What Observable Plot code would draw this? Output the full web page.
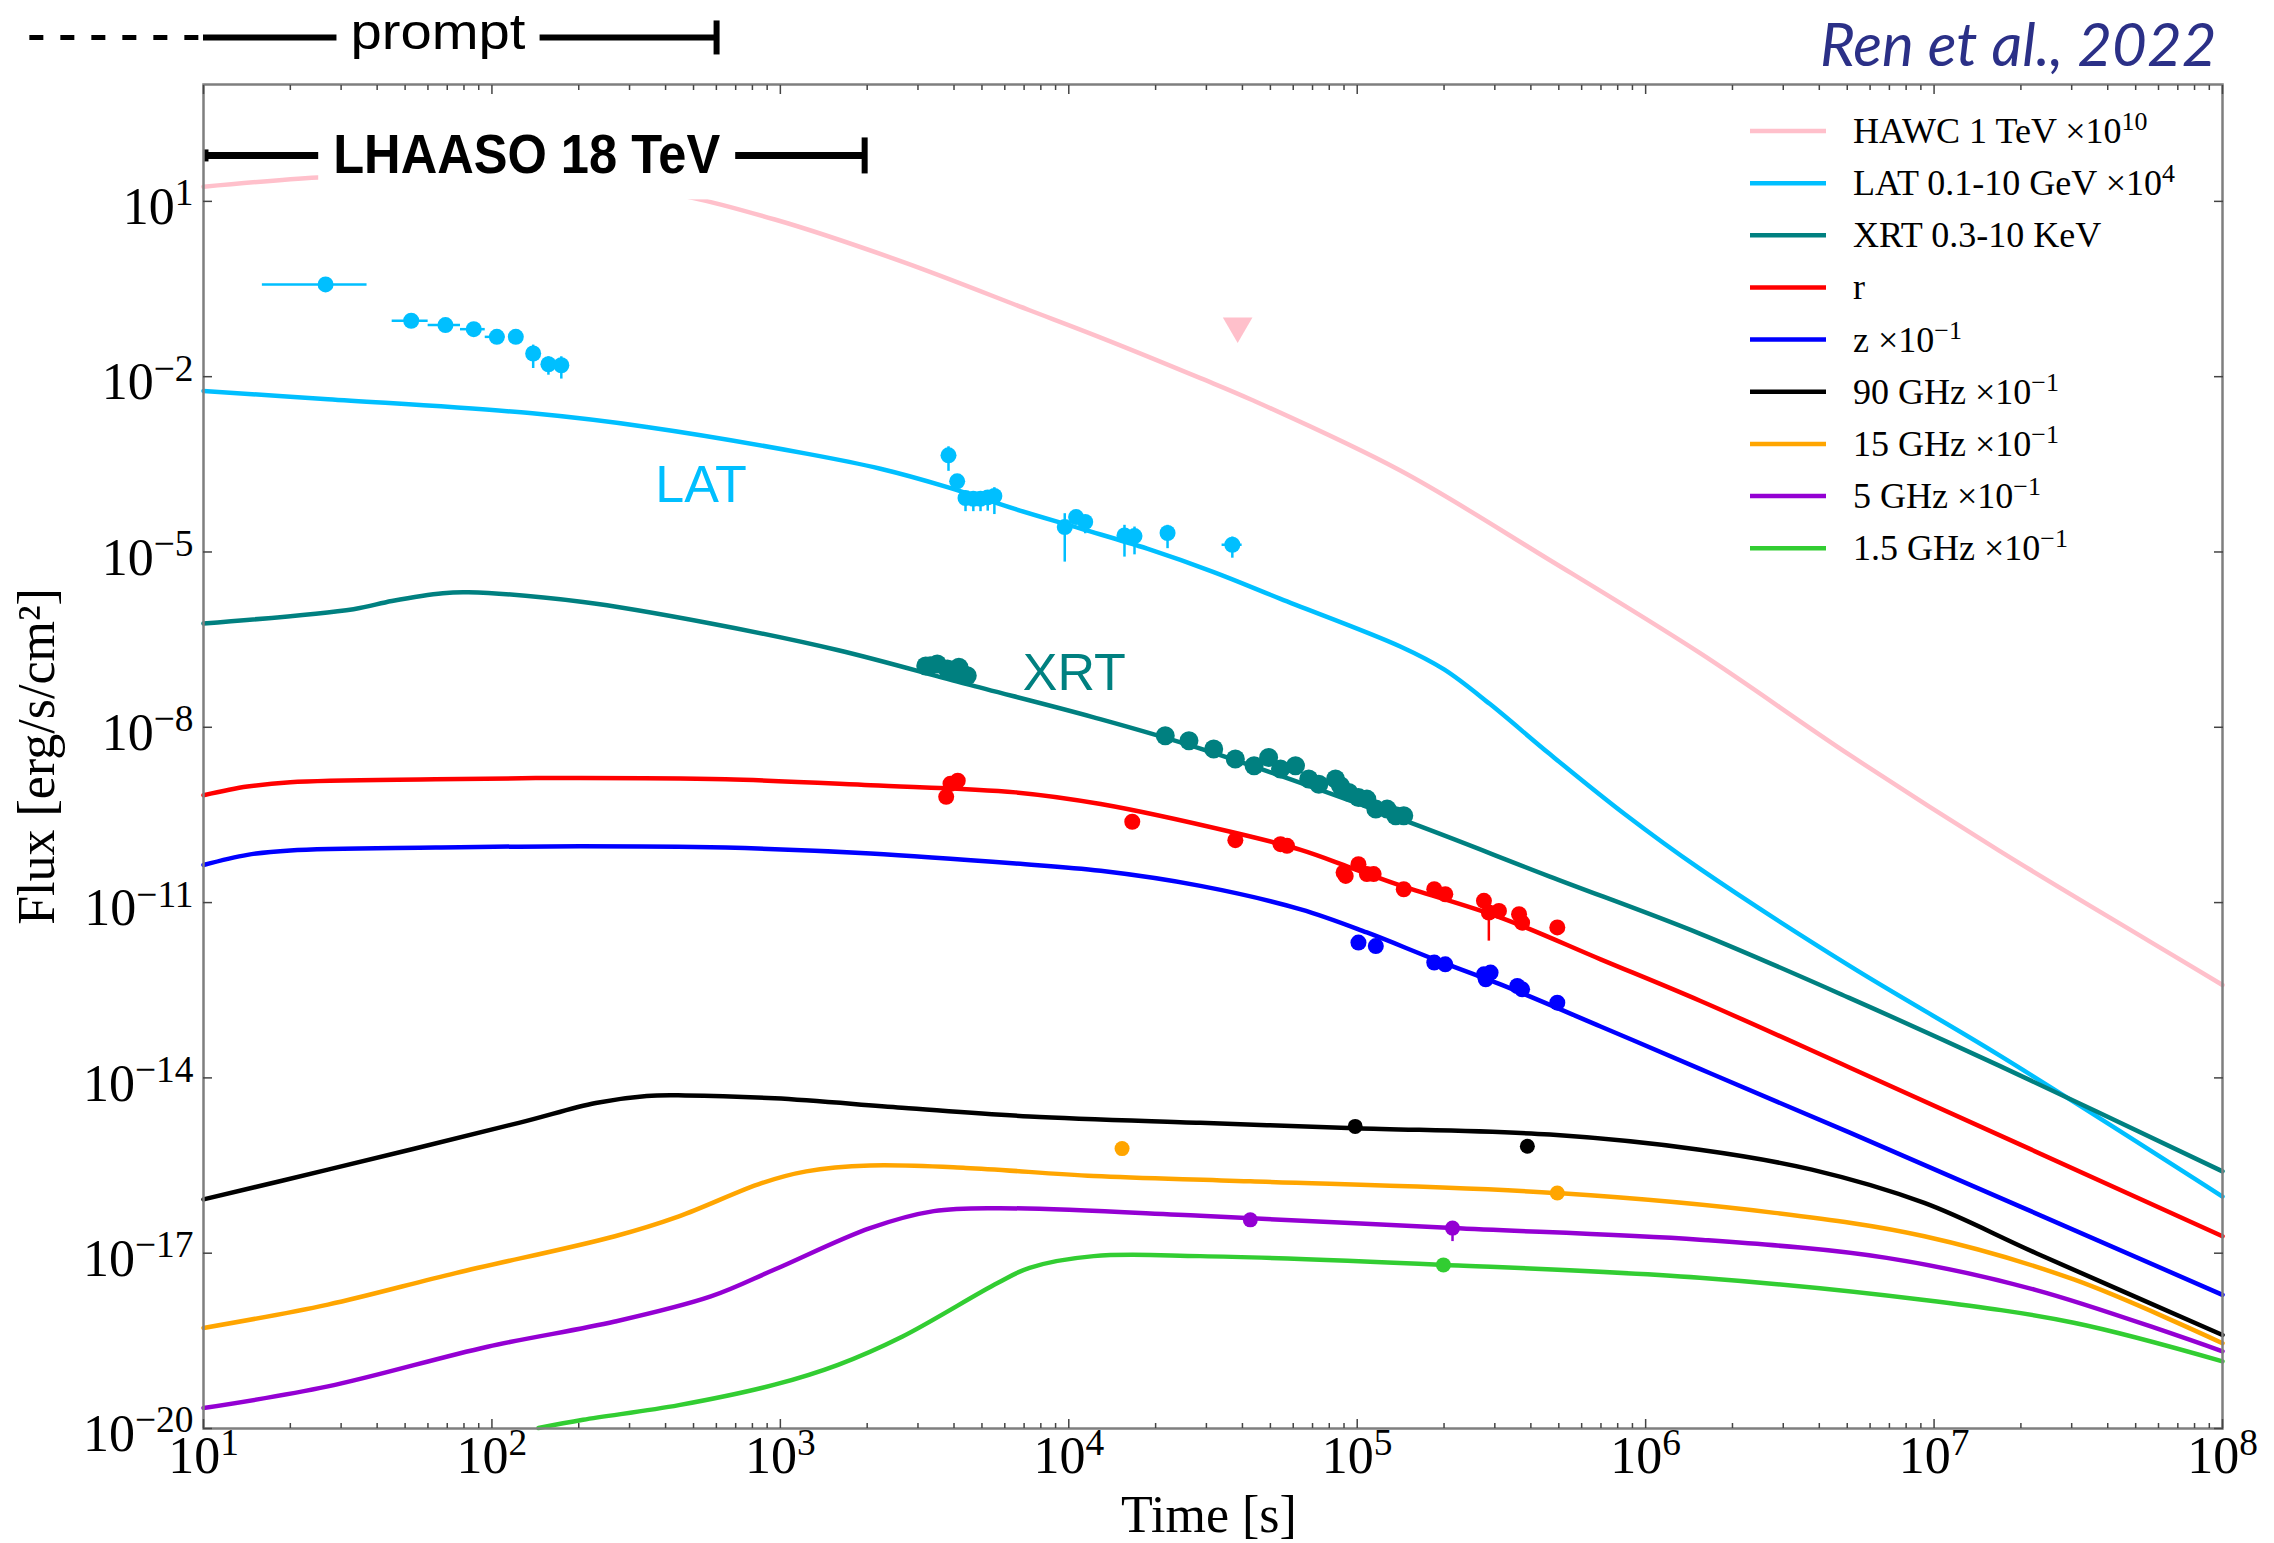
<!DOCTYPE html>
<html>
<head>
<meta charset="utf-8">
<title>Multi-wavelength light curves</title>
<script src="https://cdn.jsdelivr.net/npm/d3@7"></script>
<script src="https://cdn.jsdelivr.net/npm/@observablehq/plot@0.6"></script>
<style>
html,body{margin:0;padding:0;background:#fff;}
#chart svg{display:block;}
</style>
</head>
<body>
<div id="chart"></div>
<script>
// ---------------- axis ticks ----------------
const xMajorTicks = [1e1, 1e2, 1e3, 1e4, 1e5, 1e6, 1e7, 1e8];
const xTickLabels = ["10^1", "10^2", "10^3", "10^4", "10^5", "10^6", "10^7", "10^8"];
const yMajorTicks = [1e-20, 1e-17, 1e-14, 1e-11, 1e-8, 1e-5, 1e-2, 1e1];
const yTickLabels = ["10^-20", "10^-17", "10^-14", "10^-11", "10^-8", "10^-5", "10^-2", "10^1"];
const xMinorTicks = d3.range(1, 8).flatMap(k => d3.range(2, 10).map(m => m * 10 ** k));

// ---------------- series (legend order) ----------------
const seriesNames = ["HAWC 1 TeV ×10^10", "LAT 0.1-10 GeV ×10^4", "XRT 0.3-10 KeV", "r", "z ×10^-1",
  "90 GHz ×10^-1", "15 GHz ×10^-1", "5 GHz ×10^-1", "1.5 GHz ×10^-1"];
const seriesColors = ["#ffc0cb", "#00bfff", "#008080", "#ff0000", "#0000ff", "#000000", "#ffa500", "#9400d3", "#32cd32"];

// ---------------- model curves: [time (s), flux (erg/s/cm^2)] ----------------
const hawcModel = [[10, 17.8], [24.9, 25.7], [50, 28.8], [158, 21.4], [411, 13.7], [957, 4.89], [2642, 0.931],
  [7311, 0.137], [1.29e4, 0.0467], [2.86e4, 9.44e-3], [4.26e4, 4.11e-3], [1.41e5, 2.47e-4], [4.63e5, 7.36e-6],
  [1.54e6, 1.87e-7], [5.08e6, 3.40e-9], [1.68e7, 7.76e-11], [5.53e7, 2.24e-12], [1e8, 3.89e-13]];
const latModel = [[10, 5.69e-3], [27.0, 4.12e-3], [138, 2.36e-3], [344, 1.38e-3], [1230, 4.82e-4], [2223, 2.66e-4],
  [3793, 1.29e-4], [6457, 5.5e-5], [1.1e4, 2.51e-5], [1.87e4, 1.14e-5], [3.18e4, 4.53e-6], [5.42e4, 1.58e-6],
  [1.41e5, 2.42e-7], [2.0e5, 9.8e-8], [2.88e5, 2.52e-8], [4.63e5, 3.55e-9], [8.43e5, 3.31e-10], [1.54e6, 3.8e-11],
  [5.08e6, 8.32e-13], [1.68e7, 2.45e-14], [1e8, 9.33e-17]];
const xrtModel = [[10, 5.97e-7], [33.1, 1.05e-6], [45, 1.45e-6], [67.6, 1.97e-6], [82.8, 2.04e-6], [207, 1.39e-6],
  [574, 5.97e-7], [1589, 2.08e-7], [4395, 5.52e-8], [1.22e4, 1.48e-8], [2.86e4, 4.31e-9], [1.41e5, 2.70e-10],
  [4.63e5, 2.82e-11], [1.54e6, 2.95e-12], [5.08e6, 2.34e-13], [1.68e7, 1.62e-14], [1e8, 2.51e-16]];
const rModel = [[10, 6.86e-10], [14.2, 9.66e-10], [20, 1.15e-9], [63.8, 1.29e-9], [203, 1.36e-9], [646, 1.29e-9],
  [2056, 1.02e-9], [6546, 7.69e-10], [1.29e4, 4.86e-10], [3.73e4, 1.58e-10], [6.37e4, 7.98e-11], [9.48e4, 3.98e-11],
  [1.41e5, 1.97e-11], [3.14e5, 5.55e-12], [6.98e5, 1.07e-12], [1.55e6, 2.07e-13], [5.09e6, 1.51e-14], [1e8, 1.95e-17]];
const zModel = [[10, 4.40e-11], [14.2, 6.56e-11], [20, 7.80e-11], [63.8, 8.73e-11], [203, 9.25e-11], [646, 8.73e-11],
  [2056, 6.95e-11], [6546, 4.66e-11], [1.29e4, 3.50e-11], [2.86e4, 1.93e-11], [6.37e4, 7.67e-12], [1.08e5, 3.08e-12],
  [1.85e5, 1.07e-12], [3.14e5, 3.98e-13], [6.98e5, 7.59e-14], [1.55e6, 1.41e-14], [5.08e6, 1.17e-15], [1e8, 1.94e-18]];
const ghz90Model = [[10, 8.32e-17], [27, 2.69e-16], [124, 1.70e-15], [229, 3.72e-15], [344, 4.90e-15], [468, 5.01e-15],
  [955, 4.47e-15], [2642, 3.09e-15], [7311, 2.19e-15], [2.86e4, 1.70e-15], [9.84e4, 1.38e-15], [4.66e5, 1.07e-15],
  [1.54e6, 5.89e-16], [3.77e6, 2.69e-16], [9.25e6, 7.24e-17], [2.26e7, 1.0e-17], [1e8, 3.98e-19]];
const ghz15Model = [[10, 5.25e-19], [27, 1.32e-18], [74.8, 4.57e-18], [267, 1.95e-17], [445, 4.27e-17], [861, 1.58e-16],
  [1230, 2.51e-16], [2046, 3.16e-16], [4395, 2.88e-16], [1.22e4, 2.09e-16], [4.26e4, 1.70e-16], [4.94e5, 1.07e-16],
  [2.8e6, 4.90e-17], [9.25e6, 1.95e-17], [3.05e7, 3.55e-18], [1e8, 2.88e-19]];
const ghz5Model = [[10, 2.24e-20], [27, 5.25e-20], [96.6, 2.51e-19], [267, 6.76e-19], [574, 1.82e-18], [955, 5.25e-18],
  [2046, 2.69e-17], [3404, 5.25e-17], [5662, 5.89e-17], [2.86e4, 4.37e-17], [2.14e5, 2.69e-17], [1.54e6, 1.70e-17],
  [6.85e6, 8.32e-18], [2.26e7, 2.34e-18], [1e8, 2.09e-19]];
const ghz1p5Model = [[145, 1.02e-20], [207, 1.41e-20], [445, 2.51e-20], [955, 5.62e-20], [1585, 1.23e-19],
  [2642, 3.72e-19], [5662, 3.09e-18], [7311, 5.62e-18], [1.22e4, 8.91e-18], [2.86e4, 8.91e-18], [2.01e5, 6.31e-18],
  [1.54e6, 3.80e-18], [9.25e6, 1.58e-18], [3.05e7, 6.46e-19], [1e8, 1.41e-19]];

// ---------------- observed points ----------------
const latEarly = [
  {t: 26.5, f: 0.379, t1: 16.0, t2: 36.9},
  {t: 52.5, f: 0.0906, t1: 45.1, t2: 60.1},
  {t: 69.0, f: 0.0764, t1: 60.1, t2: 77.8},
  {t: 86.5, f: 0.065, t1: 77.8, t2: 94.8},
  {t: 104, f: 0.048, t1: 94.8, t2: 111},
  {t: 121, f: 0.048},
  {t: 139, f: 0.0249, f1: 0.0347, f2: 0.0138},
  {t: 157, f: 0.0163, f1: 0.0219, f2: 0.0106},
  {t: 174, f: 0.0157, f1: 0.0219, f2: 0.0091}
];
const latLate = [
  {t: 3828, f: 4.51e-4, f1: 6.31e-4, f2: 2.40e-4},
  {t: 4102, f: 1.62e-4},
  {t: 4385, f: 8.38e-5, f2: 4.9e-5},
  {t: 4667, f: 8.13e-5, f2: 4.9e-5},
  {t: 4943, f: 8.13e-5, f2: 4.9e-5},
  {t: 5236, f: 8.57e-5, f2: 5.0e-5},
  {t: 5521, f: 9.08e-5, f1: 1.26e-4, f2: 4.37e-5},
  {t: 9683, f: 2.67e-5, f1: 4.52e-5, f2: 6.71e-6},
  {t: 1.06e4, f: 3.95e-5},
  {t: 1.14e4, f: 3.26e-5, f2: 2.05e-5},
  {t: 1.56e4, f: 1.92e-5, f1: 2.86e-5, f2: 8.17e-6},
  {t: 1.69e4, f: 1.87e-5, f1: 2.67e-5, f2: 8.93e-6},
  {t: 2.2e4, f: 2.11e-5, f1: 2.86e-5, f2: 1.14e-5},
  {t: 3.69e4, f: 1.33e-5, f1: 1.8e-5, f2: 7.83e-6, t1: 3.4e4, t2: 3.99e4}
];
const xrtPoints = [[3192, 1.117e-7], [3311, 1.135e-7], [3499, 1.216e-7], [3793, 9.95e-8], [3981, 9.4e-8],
  [4159, 1.067e-7], [4256, 8.38e-8], [4446, 7.64e-8],
  [2.16e4, 7.16e-9], [2.61e4, 5.89e-9], [3.18e4, 4.26e-9], [3.78e4, 2.86e-9], [4.39e4, 2.2e-9], [4.93e4, 3.05e-9],
  [5.42e4, 1.93e-9], [6.11e4, 2.2e-9], [6.79e4, 1.3e-9], [7.36e4, 1.06e-9], [8.41e4, 1.3e-9], [8.75e4, 1.0e-9],
  [9.35e4, 7.69e-10], [1.01e5, 6.3e-10], [1.08e5, 5.9e-10], [1.16e5, 3.98e-10], [1.27e5, 3.98e-10],
  [1.36e5, 3.06e-10], [1.45e5, 3.06e-10]];
const rPoints = [[3758, 6.46e-10], [3890, 1.08e-9], [4121, 1.22e-9], [1.66e4, 2.42e-10], [3.78e4, 1.17e-10],
  [5.42e4, 1.0e-10], [5.71e4, 9.35e-11], [8.97e4, 3.27e-11], [9.12e4, 2.86e-11], [1.01e5, 4.55e-11],
  [1.08e5, 3.07e-11], [1.14e5, 3.07e-11], [1.45e5, 1.69e-11], [1.85e5, 1.69e-11], [2.02e5, 1.39e-11],
  [2.75e5, 1.07e-11], [2.86e5, 6.76e-12], [3.1e5, 7.21e-12], [3.64e5, 6.32e-12], [3.73e5, 4.54e-12], [4.94e5, 3.76e-12]];
const rErrors = [{t: 2.86e5, f1: 6.76e-12, f2: 2.19e-12}];
const zPoints = [[1.01e5, 2.07e-12], [1.16e5, 1.8e-12], [1.85e5, 9.4e-13], [2.02e5, 8.77e-13], [2.75e5, 5.92e-13],
  [2.79e5, 4.86e-13], [2.9e5, 6.34e-13], [3.59e5, 3.74e-13], [3.73e5, 3.28e-13], [4.94e5, 1.94e-13]];
const ghz90Points = [[9.84e4, 1.48e-15], [3.89e5, 6.76e-16]];
const ghz15Points = [[1.53e4, 6.17e-16], [4.94e5, 1.07e-16]];
const ghz5Points = [[4.26e4, 3.72e-17], [2.14e5, 2.69e-17]];
const ghz5Errors = [{t: 2.14e5, f1: 2.69e-17, f2: 1.58e-17}];
const ghz1p5Points = [[1.99e5, 6.31e-18]];
const hawcUpperLimit = [[3.85e4, 0.0738]];

// ---------------- annotations (time intervals / labels) ----------------
const promptBar = {label: "prompt", start: 10, end: 601, dashStart: 2.5, dashEnd: 17, flux: 6383, labelTime: 65};
const lhaasoBar = {label: "LHAASO 18 TeV", start: 10.2, end: 1960, flux: 61.1, labelTime: 132};
const bandLabels = [
  {text: "LAT", t: 531, f: 1.37e-4, color: "#00bfff"},
  {text: "XRT", t: 1.045e4, f: 8.32e-8, color: "#008080"}
];

// ---------------- build ----------------
const models = [hawcModel, latModel, xrtModel, rModel, zModel, ghz90Model, ghz15Model, ghz5Model, ghz1p5Model];
const vbar = {draw(ctx, size) { const h = Math.sqrt(size / Math.PI); ctx.moveTo(0, -h); ctx.lineTo(0, h); }};
const xLabelMap = new Map(xMajorTicks.map((v, i) => [v, xTickLabels[i]]));
const yLabelMap = new Map(yMajorTicks.map((v, i) => [v, yTickLabels[i]]));
const tickColor = "#444";
const P = d => d[0], F = d => d[1];
const dots = (data, color, r) => Plot.dot(data, {x: P, y: F, r, fill: color, stroke: "none"});

const chart = Plot.plot({
  width: 2274,
  height: 1543,
  marginLeft: 203,
  marginRight: 52,
  marginTop: 84,
  marginBottom: 115,
  style: {fontFamily: "Liberation Serif", background: "#fff", overflow: "visible"},
  x: {type: "log", domain: [10, 1e8]},
  y: {type: "log", domain: [1e-20, 1e3]},
  marks: [
    // model curves
    ...models.map((data, i) => Plot.line(data, {x: P, y: F, stroke: seriesColors[i], strokeWidth: 4.5, curve: "catmull-rom"})),
    // HAWC upper limit
    Plot.dot(hawcUpperLimit, {x: P, y: F, symbol: "triangle", r: 11, rotate: 180, fill: "#ffc0cb", stroke: "none"}),
    // LAT error bars + points
    Plot.ruleY(latEarly.filter(d => d.t1), {y: "f", x1: "t1", x2: "t2", stroke: "#00bfff", strokeWidth: 2.5}),
    Plot.ruleY(latLate.filter(d => d.t1), {y: "f", x1: "t1", x2: "t2", stroke: "#00bfff", strokeWidth: 2.5}),
    Plot.ruleX([...latEarly, ...latLate].filter(d => d.f1 || d.f2), {x: "t", y1: d => d.f1 ?? d.f, y2: d => d.f2 ?? d.f, stroke: "#00bfff", strokeWidth: 2.5}),
    Plot.dot([...latEarly, ...latLate], {x: "t", y: "f", r: 8, fill: "#00bfff", stroke: "none"}),
    // XRT
    dots(xrtPoints, "#008080", 9.5),
    // optical
    Plot.ruleX(rErrors, {x: "t", y1: "f1", y2: "f2", stroke: "#ff0000", strokeWidth: 2.5}),
    dots(rPoints, "#ff0000", 8),
    dots(zPoints, "#0000ff", 8),
    // radio
    dots(ghz90Points, "#000000", 7.5),
    dots(ghz15Points, "#ffa500", 7.5),
    Plot.ruleX(ghz5Errors, {x: "t", y1: "f1", y2: "f2", stroke: "#9400d3", strokeWidth: 2.5}),
    dots(ghz5Points, "#9400d3", 7.5),
    dots(ghz1p5Points, "#32cd32", 7.5),
    // band labels
    Plot.text(bandLabels, {x: "t", y: "f", text: "text", fill: "color", fontFamily: "Liberation Sans", fontSize: 52}),
    // LHAASO interval
    Plot.ruleY([lhaasoBar], {y: "flux", x1: "start", x2: "end", stroke: "black", strokeWidth: 7}),
    Plot.dot([lhaasoBar], {x: "end", y: "flux", symbol: vbar, r: 18, stroke: "black", strokeWidth: 6, fill: "none"}),
    Plot.dot([lhaasoBar], {x: "start", y: "flux", symbol: vbar, r: 6, stroke: "black", strokeWidth: 5, fill: "none"}),
    Plot.text([lhaasoBar], {x: "labelTime", y: "flux", text: "label", fontFamily: "Liberation Sans", fontWeight: "bold", fontSize: 56, fill: "black"}),
    // prompt interval (above the frame)
    Plot.ruleY([promptBar], {y: "flux", x1: "dashStart", x2: "dashEnd", stroke: "black", strokeWidth: 5, strokeDasharray: "14,17"}),
    Plot.ruleY([promptBar], {y: "flux", x1: "start", x2: "end", stroke: "black", strokeWidth: 6}),
    Plot.dot([promptBar], {x: "end", y: "flux", symbol: vbar, r: 17, stroke: "black", strokeWidth: 6, fill: "none"}),
    Plot.text([promptBar], {x: "labelTime", y: "flux", text: "label", fontFamily: "Liberation Sans", fontSize: 50, dy: -4, fill: "black"}),
    // citation
    Plot.text(["Ren et al., 2022"], {frameAnchor: "top-right", text: d => d, textAnchor: "end", lineAnchor: "middle", dx: -6, dy: -38,
      fontFamily: "Lato", fontStyle: "italic", fontSize: 60, fill: "#2b3087"}),
    // axis titles
    Plot.text(["Time [s]"], {frameAnchor: "bottom", text: d => d, textAnchor: "middle", lineAnchor: "middle", dx: -4, dy: 87, fontSize: 52, fontFamily: "Liberation Serif", fill: "black"}),
    Plot.text(["Flux [erg/s/cm²]"], {frameAnchor: "left", text: d => d, textAnchor: "middle", lineAnchor: "middle", rotate: -90, dx: -166, fontSize: 52, fontFamily: "Liberation Serif", fill: "black"}),
    // frame + inward ticks
    Plot.frame({stroke: "#7f7f7f", strokeWidth: 2.5}),
    ...["bottom", "top"].flatMap(a => [
      Plot.axisX(xMinorTicks, {anchor: a, tickSize: -5, tickFormat: () => "", stroke: tickColor, strokeWidth: 1.5, label: null}),
      Plot.axisX(xMajorTicks, {anchor: a, tickSize: -9, tickFormat: () => "", stroke: tickColor, strokeWidth: 1.5, label: null})
    ]),
    ...["left", "right"].map(a =>
      Plot.axisY(yMajorTicks, {anchor: a, tickSize: -9, tickFormat: () => "", stroke: tickColor, strokeWidth: 1.5, label: null})),
    // tick labels
    Plot.axisX(xMajorTicks, {anchor: "bottom", tickSize: 0, tickPadding: 8, tickFormat: d => xLabelMap.get(d), fontSize: 52, fontFamily: "Liberation Serif", fill: "black", label: null}),
    Plot.axisY(yMajorTicks, {anchor: "left", tickSize: 0, tickPadding: 10, dy: 6, tickFormat: d => yLabelMap.get(d), fontSize: 52, fontFamily: "Liberation Serif", fill: "black", label: null})
  ]
});

document.getElementById("chart").append(chart);

// ---------- helpers ----------
function writeSup(textSel, str) {
  const idx = str.indexOf("^");
  textSel.text(null);
  if (idx < 0) { textSel.append("tspan").text(str); return; }
  textSel.append("tspan").text(str.slice(0, idx));
  textSel.append("tspan").attr("dy", "-0.5em").attr("font-size", "0.72em").text(str.slice(idx + 1).replace("-", "−"));
}
// white box behind an annotation text (like a matplotlib text bbox)
function addBox(textEl, padX, padY) {
  const b = textEl.getBBox();
  const r = document.createElementNS("http://www.w3.org/2000/svg", "rect");
  r.setAttribute("x", b.x - padX);
  r.setAttribute("y", b.y - padY);
  r.setAttribute("width", b.width + 2 * padX);
  r.setAttribute("height", b.height + 2 * padY);
  r.setAttribute("fill", "white");
  r.setAttribute("stroke", "none");
  const tr = textEl.getAttribute("transform");
  if (tr) r.setAttribute("transform", tr);
  textEl.parentNode.insertBefore(r, textEl);
}

const svg = d3.select(chart);
svg.selectAll("text").each(function () {
  const s = this.textContent;
  if (/^10\^/.test(s)) writeSup(d3.select(this), s);
  if (s === lhaasoBar.label) {
    this.setAttribute("textLength", 387); this.setAttribute("lengthAdjust", "spacingAndGlyphs");
    addBox(this, 15, 14);
  }
  if (s === promptBar.label) {
    this.setAttribute("textLength", 175); this.setAttribute("lengthAdjust", "spacingAndGlyphs");
    addBox(this, 14, 4);
  }
});

// ---------- legend ----------
const lg = svg.append("g").attr("font-family", "Liberation Serif").attr("font-size", 36)
  .attr("fill", "black").attr("text-anchor", "start");
seriesNames.forEach((name, i) => {
  const y = 131 + i * 52.15;
  lg.append("line").attr("x1", 1750).attr("x2", 1826).attr("y1", y).attr("y2", y)
    .attr("stroke", seriesColors[i]).attr("stroke-width", 4.5);
  writeSup(lg.append("text").attr("x", 1853).attr("y", y + 12).attr("text-anchor", "start"), name);
});
</script>
</body>
</html>
